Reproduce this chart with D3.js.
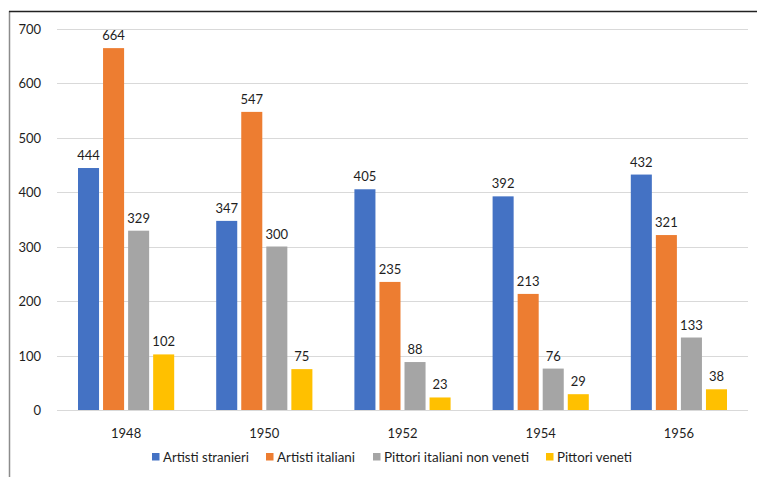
<!DOCTYPE html>
<html><head><meta charset="utf-8">
<script src="https://cdn.jsdelivr.net/npm/d3@7"></script>
<style>body{margin:0;background:#fff}svg{display:block}</style>
</head><body>
<script>
const years = ["1948","1950","1952","1954","1956"];
const seriesNames = ["Artisti stranieri","Artisti italiani","Pittori italiani non veneti","Pittori veneti"];
const seriesColors = ["#4472C4","#ED7D31","#A5A5A5","#FFC000"];
const artistiStranieri = [444,347,405,392,432];
const artistiItaliani = [664,547,235,213,321];
const pittoriNonVeneti = [329,300,88,76,133];
const pittoriVeneti = [102,75,23,29,38];
const yTicks = [0,100,200,300,400,500,600,700];
const series = [artistiStranieri, artistiItaliani, pittoriNonVeneti, pittoriVeneti];

const W = 757, H = 477;
const font = "Lato, 'Open Sans', sans-serif";
const txt = "#1e1e1e";
const fs = 13;
const svg = d3.select("body").append("svg").attr("width", W).attr("height", H);

// frame
svg.append("line").attr("x1",9.5).attr("x2",9.5).attr("y1",11).attr("y2",H).attr("stroke","#8c8c8c").attr("stroke-width",1.5);
svg.append("line").attr("x1",9).attr("x2",W).attr("y1",11.5).attr("y2",11.5).attr("stroke","#222").attr("stroke-width",1.5);

const x0 = d3.scaleBand().domain(years).range([57, 748]).paddingInner(0).paddingOuter(0);
const groupPad = 21;
const x1 = d3.scaleBand().domain(d3.range(4)).range([groupPad, x0.bandwidth() - groupPad]).paddingInner(0.16).paddingOuter(0);
const y = d3.scaleLinear().domain([0, 700]).range([410, 28.5]);

// gridlines
svg.append("g").selectAll("line").data(yTicks).join("line")
  .attr("x1", 57).attr("x2", 748)
  .attr("y1", d => Math.round(y(d)) + 0.5).attr("y2", d => Math.round(y(d)) + 0.5)
  .attr("stroke", "#d9d9d9").attr("stroke-width", 1);

// y axis labels
const yAxis = d3.axisLeft(y).tickValues(yTicks).tickSize(0).tickPadding(0);
const ya = svg.append("g").attr("transform", "translate(41,0)").call(yAxis);
ya.select(".domain").remove();
ya.selectAll("text").attr("font-family", font).attr("font-size", fs).attr("fill", txt).attr("dy","0.35em");

// x axis labels
const xAxis = d3.axisBottom(x0).tickSize(0).tickPadding(0);
const xa = svg.append("g").attr("transform", "translate(0,425)").call(xAxis);
xa.select(".domain").remove();
xa.selectAll("text").attr("font-family", font).attr("font-size", fs).attr("fill", txt).attr("dy","0.35em").attr("y", 8);

// bars
const groups = svg.append("g").selectAll("g").data(years).join("g")
  .attr("transform", d => `translate(${x0(d)},0)`);
groups.each(function(yr, gi) {
  const g = d3.select(this);
  series.forEach((s, si) => {
    const v = s[gi];
    g.append("rect").attr("x", x1(si)).attr("width", x1.bandwidth())
      .attr("y", y(v)).attr("height", y(0) - y(v)).attr("fill", seriesColors[si]);
    g.append("text").attr("x", x1(si) + x1.bandwidth()/2).attr("y", y(v) - 8)
      .attr("text-anchor", "middle").attr("font-family", font).attr("font-size", fs)
      .attr("fill", txt).text(v);
  });
});

// legend
const legendX = [152, 266, 373, 546];
const legendW = [86, 78, 145, 75];
const lg = svg.append("g");
seriesNames.forEach((n, i) => {
  lg.append("rect").attr("x", legendX[i]).attr("y", 453).attr("width", 7.5).attr("height", 7.5).attr("fill", seriesColors[i]);
  lg.append("text").attr("x", legendX[i] + 11).attr("y", 462).attr("font-family", font).attr("font-size", fs)
    .attr("fill", txt).attr("textLength", legendW[i]).attr("lengthAdjust", "spacingAndGlyphs").text(n);
});
</script>
</body></html>
